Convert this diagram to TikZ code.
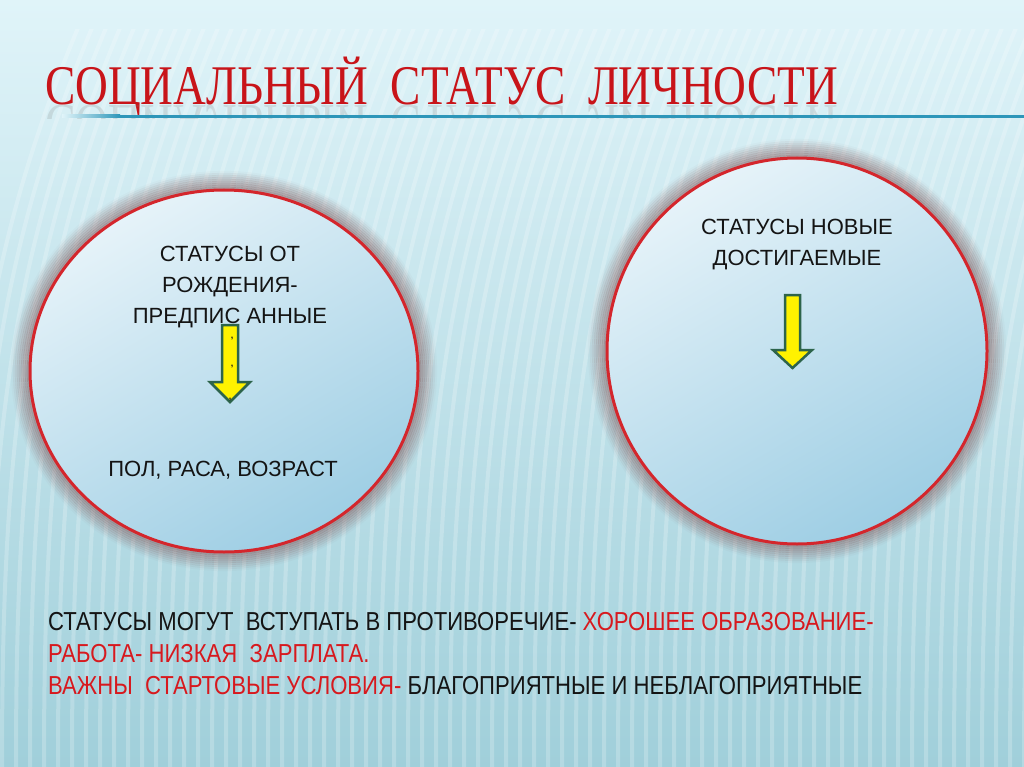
\documentclass[tikz,border=0pt]{standalone}
\usepackage{fontspec}
\setmainfont{Liberation Sans}
\newfontfamily\titlefont[FakeStretch=0.81]{Liberation Serif}
\newfontfamily\narrowfont[FakeStretch=0.85]{Liberation Sans}
\usetikzlibrary{positioning,shapes.geometric}

\definecolor{bgtop}{RGB}{224,244,249}
\definecolor{bgmid}{RGB}{198,231,239}
\definecolor{bgbot}{RGB}{160,207,218}
\definecolor{titlered}{RGB}{200,20,25}
\definecolor{rimred}{RGB}{212,38,44}
\definecolor{halo}{RGB}{135,100,102}
\definecolor{fillhi}{RGB}{230,243,249}
\definecolor{filllo}{RGB}{158,206,228}
\definecolor{arrowgreen}{RGB}{45,100,75}
\definecolor{lineblue}{RGB}{45,150,185}
\definecolor{textred}{RGB}{215,25,30}
\definecolor{ink}{RGB}{20,20,20}

\begin{document}
\begin{tikzpicture}[x=1pt,y=-1pt,
	status/.style={font=\fontsize{22}{31}\selectfont, text=ink, align=center, inner sep=0pt},
	rim/.style={ellipse, draw=rimred, line width=3pt, inner sep=0pt, shading=axis, top color=fillhi, bottom color=filllo, shading angle=30},
	yellowarrow/.style={fill=yellow, draw=arrowgreen, line width=2.5pt, line join=miter},
	note/.style={font=\narrowfont\fontsize{26}{32}\selectfont, text=ink, anchor=base west, inner sep=0pt},
	tick/.style={font=\bfseries\fontsize{9}{9}\selectfont, text=ink, inner sep=0pt}]
	\useasboundingbox (0,0) rectangle (1024,767);
	% background
	\shade[top color=bgtop, middle color=bgmid, bottom color=bgbot] (0,0) rectangle (1024,767);
	\begin{scope}
		\clip (0,30) rectangle (1024,767);
		\foreach \i in {-40,-26,...,1100}
			\draw[white, opacity=0.22, line width=4pt] (\i,767) .. controls (\i,450) and (\i+20,250) .. (\i+130,0);
	\end{scope}
	% title with its reflection
	\node[anchor=base west, inner sep=0pt, text=titlered, font=\titlefont\fontsize{56}{56}\selectfont] (title) at (45,105) {СОЦИАЛЬНЫЙ\ \ СТАТУС\ \ ЛИЧНОСТИ};
	\begin{scope}
		\clip (0,106) rectangle (1024,119);
		\node[anchor=base west, inner sep=0pt, text=gray, text opacity=0.2, font=\titlefont\fontsize{56}{56}\selectfont] (titlemirror) at (45,106) {\scalebox{1}[-1]{СОЦИАЛЬНЫЙ\ \ СТАТУС\ \ ЛИЧНОСТИ}};
	\end{scope}
	\shade[left color=bgtop, right color=lineblue] (62,115) rectangle (120,118);
	\fill[lineblue] (120,115) rectangle (1024,118);
	% circles
	\coordinate (lc) at (224,371);
	\coordinate (rc) at (797,351);
	\foreach \d in {1,...,9} {
		\draw[halo, line width=2.2pt, opacity=0.62-0.065*\d] (lc) ellipse ({194+2*\d} and {181+2*\d});
		\draw[halo, line width=2.2pt, opacity=0.62-0.065*\d] (rc) ellipse ({190+2*\d} and {193+2*\d});
	}
	\node[rim, minimum width=388pt, minimum height=362pt] (ascribed) at (lc) {};
	\node[rim, minimum width=380pt, minimum height=386pt] (achieved) at (rc) {};
	% left circle
	\node[status] (born) at (230,287) {СТАТУСЫ ОТ\\РОЖДЕНИЯ-\\ПРЕДПИС АННЫЕ};
	\coordinate (ltop) at (230,325);
	\draw[yellowarrow] (ltop) ++(-8,0) -- ++(16,0) -- ++(0,57) -- ++(12,0) -- ++(-20,20) -- ++(-20,-20) -- ++(12,0) -- cycle;
	\node[tick] (ticka) at (232,339) {,};
	\node[tick] (tickb) at (232,367) {,};
	\node[tick] (tickc) at (230,400) {,};
	\node[status, anchor=base] (traits) at (223,476) {ПОЛ, РАСА, ВОЗРАСТ};
	% right circle
	\node[status] (new) at (797,245) {СТАТУСЫ НОВЫЕ\\ДОСТИГАЕМЫЕ};
	\coordinate (rtop) at (792.5,295);
	\draw[yellowarrow] (rtop) ++(-7.5,0) -- ++(15,0) -- ++(0,55) -- ++(12,0) -- ++(-19.5,18) -- ++(-19.5,-18) -- ++(12,0) -- cycle;
	% notes below
	\node[note] (clash) at (48,630) {СТАТУСЫ МОГУТ\ \ ВСТУПАТЬ В ПРОТИВОРЕЧИЕ- \textcolor{textred}{ХОРОШЕЕ ОБРАЗОВАНИЕ-}};
	\node[note, text=textred] (job) at (48,662) {РАБОТА- НИЗКАЯ\ \ ЗАРПЛАТА.};
	\node[note] (start) at (48,694) {\textcolor{textred}{ВАЖНЫ\ \ СТАРТОВЫЕ УСЛОВИЯ-} БЛАГОПРИЯТНЫЕ И НЕБЛАГОПРИЯТНЫЕ};
\end{tikzpicture}
\end{document}
